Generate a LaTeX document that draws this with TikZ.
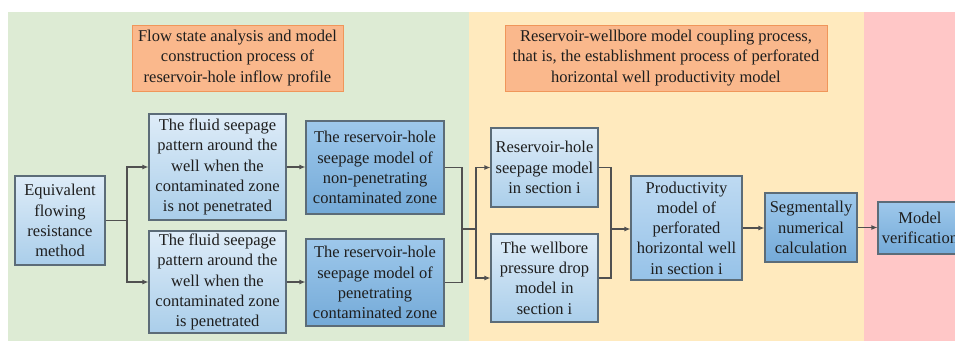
\documentclass[tikz,border=0pt]{standalone}
\usepackage{fontspec}
\setmainfont{Liberation Serif}
\newfontfamily\boxfont{Liberation Serif}
\usetikzlibrary{arrows.meta}
\definecolor{panelgreen}{RGB}{221,235,212}
\definecolor{panelyellow}{RGB}{255,234,190}
\definecolor{panelred}{RGB}{255,199,199}
\definecolor{orangefill}{RGB}{250,184,140}
\definecolor{orangeline}{RGB}{240,150,90}
\definecolor{boxline}{RGB}{92,108,120}
\definecolor{lighttop}{RGB}{222,236,248}
\definecolor{lightbot}{RGB}{170,206,234}
\definecolor{darktop}{RGB}{158,200,235}
\definecolor{darkbot}{RGB}{116,170,216}
\definecolor{midtop}{RGB}{190,218,242}
\definecolor{midbot}{RGB}{150,194,232}
\definecolor{linkcol}{RGB}{80,80,80}
\definecolor{txt}{RGB}{30,30,30}
\tikzset{
  x=1pt, y=-1pt,
  basebox/.style={draw=boxline, line width=1.1pt, align=center, inner sep=1pt,
    text=txt, font=\boxfont\fontsize{16.5}{20.3}\selectfont},
  lightbox/.style={basebox, top color=lighttop, bottom color=lightbot},
  darkbox/.style={basebox, top color=darktop, bottom color=darkbot},
  midbox/.style={basebox, top color=midtop, bottom color=midbot},
  titlebox/.style={draw=orangeline, line width=1pt, fill=orangefill, align=center,
    text=txt, font=\boxfont\fontsize{16.5}{20.3}\selectfont},
  link/.style={draw=linkcol, line width=1.1pt},
  arr/.style={link, -{Latex[length=6pt,width=5pt]}},
}
\begin{document}
\begin{tikzpicture}
\useasboundingbox (0,0) rectangle (955,341);
\clip (0,0) rectangle (955,341);
\fill[white] (0,0) rectangle (955,341);

% background panels
\fill[panelgreen] (8,12) rectangle (469,341);
\fill[panelyellow] (469,12) rectangle (864,341);
\fill[panelred] (864,12) rectangle (960,341);

% stage titles
\node[titlebox, minimum width=211pt, minimum height=66pt] (t1) at (237.5,58)
  {Flow state analysis and model\\construction process of\\reservoir-hole inflow profile};
\node[titlebox, minimum width=322pt, minimum height=66pt] (t2) at (666,58)
  {Reservoir-wellbore model coupling process,\\that is, the establishment process of perforated\\horizontal well productivity model};

% process boxes
\node[lightbox, minimum width=90pt, minimum height=89pt] (eq) at (60,220.5)
  {Equivalent\\flowing\\resistance\\method};
\node[lightbox, minimum width=137pt, minimum height=106pt] (f1) at (217.5,167)
  {The fluid seepage\\pattern around the\\well when the\\contaminated zone\\is not penetrated};
\node[lightbox, minimum width=137pt, minimum height=102pt] (f2) at (217.5,282)
  {The fluid seepage\\pattern around the\\well when the\\contaminated zone\\is penetrated};
\node[darkbox, minimum width=138pt, minimum height=93pt] (r1) at (375,167.5)
  {The reservoir-hole\\seepage model of\\non-penetrating\\contaminated zone};
\node[darkbox, minimum width=138pt, minimum height=87pt] (r2) at (375,282.5)
  {The reservoir-hole\\seepage model of\\penetrating\\contaminated zone};
\node[lightbox, minimum width=107pt, minimum height=79pt] (s1) at (544.5,167.5)
  {Reservoir-hole\\seepage model\\in section i};
\node[lightbox, minimum width=107pt, minimum height=88pt] (s2) at (544.5,278)
  {The wellbore\\pressure drop\\model in\\section i};
\node[midbox, minimum width=111pt, minimum height=104pt] (p) at (686.5,228)
  {Productivity\\model of\\perforated\\horizontal well\\in section i};
\node[darkbox, minimum width=92pt, minimum height=69pt] (seg) at (811,227.5)
  {Segmentally\\numerical\\calculation};
\node[darkbox, minimum width=84pt, minimum height=52pt] (mv) at (920,228)
  {Model\\verification};

% junction points
\coordinate (j1) at (127,220.5);
\coordinate (j2) at (462,229);
\coordinate (j3) at (476,229);
\coordinate (j4) at (611,229);

% connectors
\draw[link] (eq.east) -- (j1);
\draw[arr] (j1) |- (f1.west);
\draw[arr] (j1) |- (f2.west);
\draw[arr] (f1.east) -- (f1.east -| r1.west);
\draw[arr] (f2.east) -- (f2.east -| r2.west);
\draw[link] (r1.east) -| (j2) |- (r2.east);
\draw[link] (j2) -- (j3);
\draw[arr] (j3) |- (s1.west);
\draw[arr] (j3) |- (s2.west);
\draw[link] (s1.east) -| (j4) |- (s2.east);
\draw[arr] (j4) -- (j4 -| p.west);
\draw[arr] (p.east) -- (p.east -| seg.west);
\draw[arr] (seg.east) -- (seg.east -| mv.west);
\end{tikzpicture}
\end{document}
